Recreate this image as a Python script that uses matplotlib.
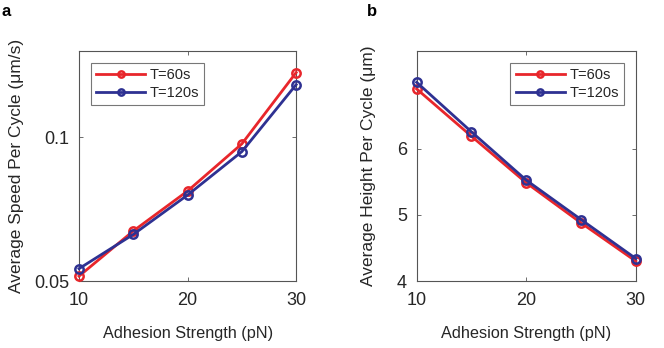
import numpy as np
import matplotlib
matplotlib.use('agg')
import matplotlib.pyplot as plt

plt.rcParams['font.family'] = ['Liberation Sans', 'DejaVu Sans']

adhesion = [10, 15, 20, 25, 30]
speed_60 = [0.0517, 0.0674, 0.0813, 0.0977, 0.1225]
speed_120 = [0.0543, 0.0662, 0.0799, 0.0950, 0.1183]
height_60 = [6.906, 6.19, 5.486, 4.88, 4.30]
height_120 = [7.006, 6.257, 5.526, 4.93, 4.34]
labels = ['T=60s', 'T=120s']

red = '#e8262b'
blue = '#2e3192'
gray = '#262626'

fig = plt.figure(figsize=(6.64, 3.48), dpi=100)
ax1 = fig.add_axes([0.119, 0.1925, 0.327, 0.661])
ax2 = fig.add_axes([0.6275, 0.1925, 0.330, 0.661])

def style(ax):
    for s in ax.spines.values():
        s.set_color('#555555')
        s.set_linewidth(0.8)
    ax.tick_params(direction='in', length=3, width=0.6, colors='#555555',
                   labelcolor=gray, labelsize=13, top=True, right=True)
    ax.tick_params(axis='x', pad=8)
    ax.tick_params(axis='y', pad=7)
    ax.set_xlim(10, 30)
    ax.set_xticks([10, 20, 30])
    ax.set_xlabel('Adhesion Strength (pN)', fontsize=11.7, color=gray, labelpad=12)

for ax, y60, y120 in [(ax1, speed_60, speed_120), (ax2, height_60, height_120)]:
    ax.plot(adhesion, y60, color=red, lw=2, marker='o', ms=6, mfc='none', mew=1.8,
            label=labels[0], clip_on=False, zorder=3)
    ax.plot(adhesion, y120, color=blue, lw=2, marker='o', ms=6, mfc='none', mew=1.8,
            label=labels[1], clip_on=False, zorder=3)
    style(ax)

ax1.set_ylim(0.05, 0.13)
ax1.set_yticks([0.05, 0.1])
ax1.set_yticklabels(['0.05', '0.1'])
ax1.set_ylabel('Average Speed Per Cycle (\u03bcm/s)', fontsize=12.5, color=gray, labelpad=7)

ax2.set_ylim(4, 7.48)
ax2.set_yticks([4, 5, 6])
ax2.set_ylabel('Average Height Per Cycle (\u03bcm)', fontsize=12.5, color=gray, labelpad=15)

for ax, loc in [(ax1, 'upper left'), (ax2, 'upper right')]:
    leg = ax.legend(loc=loc, fontsize=10.5, frameon=True, fancybox=False,
                    edgecolor='#555555', markerscale=0.75, handlelength=3.4,
                    borderpad=0.35, labelspacing=0.3, handletextpad=0.3,
                    borderaxespad=0.8)
    leg.get_frame().set_linewidth(0.8)
    for t in leg.get_texts():
        t.set_color(gray)

fig.text(0.003, 0.968, 'a', fontsize=12, fontweight='bold', va='center')
fig.text(0.553, 0.968, 'b', fontsize=12, fontweight='bold', va='center')

fig.savefig('out.png', dpi=100)
